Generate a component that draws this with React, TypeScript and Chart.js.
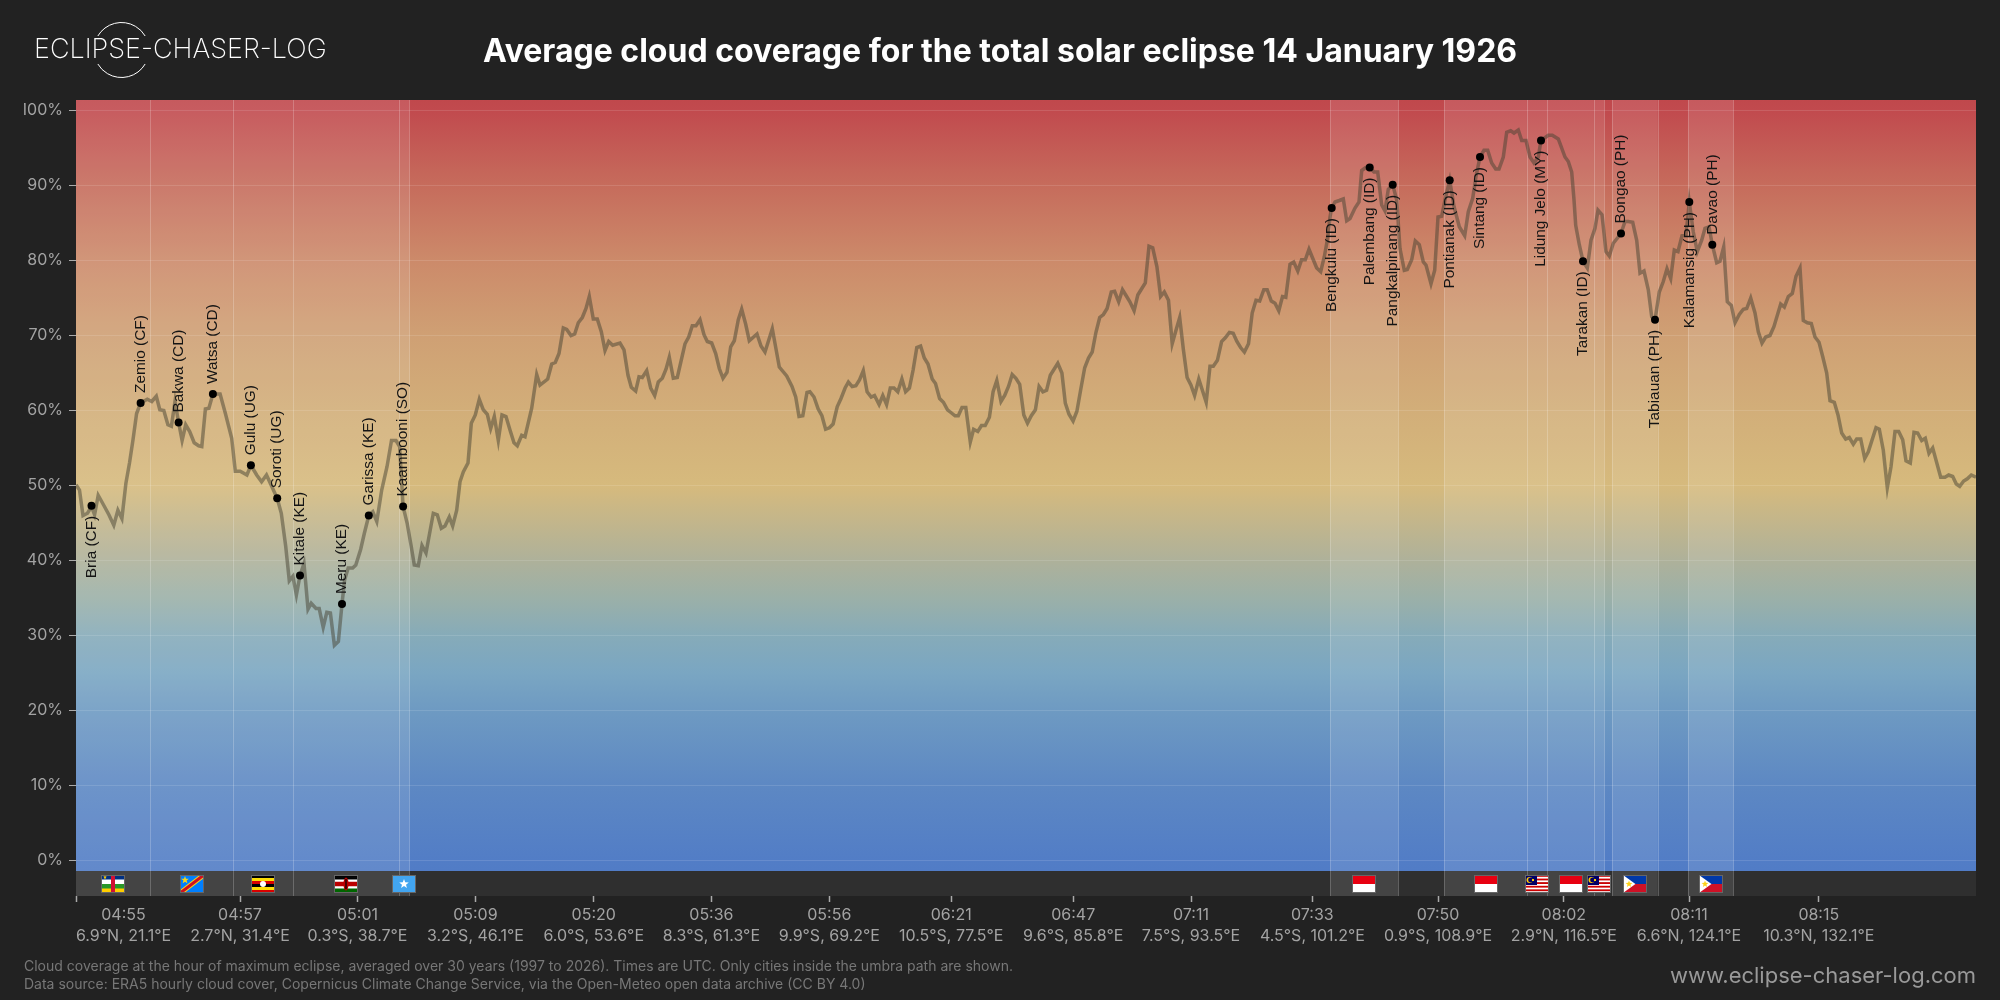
import React, { useEffect, useRef } from "react";
import { Chart, registerables } from "chart.js";

Chart.register(...registerables);

const FONT = "Inter, 'Noto Sans', sans-serif";
const titleText = "Average cloud coverage for the total solar eclipse 14 January 1926";
const logoText = "ECLIPSE-CHASER-LOG";
const siteText = "www.eclipse-chaser-log.com";
const noteLines = [
  "Cloud coverage at the hour of maximum eclipse, averaged over 30 years (1997 to 2026). Times are UTC. Only cities inside the umbra path are shown.",
  "Data source: ERA5 hourly cloud cover, Copernicus Climate Change Service, via the Open-Meteo open data archive (CC BY 4.0)",
];

const pathLength = 1900;
const yMin = -4.73;
const yMax = 101.4;
const stripTop = -1.4;
const yTicks = [0, 10, 20, 30, 40, 50, 60, 70, 80, 90, 100];

const xTickPos = [0, 47.5, 164, 281.5, 399.4, 517.7, 635.4, 753.3, 875.2, 997.2, 1115, 1236.4, 1362, 1487.8, 1613, 1742.8];
const xTickTimes = ["", "04:55", "04:57", "05:01", "05:09", "05:20", "05:36", "05:56", "06:21", "06:47", "07:11", "07:33", "07:50", "08:02", "08:11", "08:15"];
const xTickCoords = ["", "6.9°N, 21.1°E", "2.7°N, 31.4°E", "0.3°S, 38.7°E", "3.2°S, 46.1°E", "6.0°S, 53.6°E", "8.3°S, 61.3°E", "9.9°S, 69.2°E", "10.5°S, 77.5°E", "9.6°S, 85.8°E", "7.5°S, 93.5°E", "4.5°S, 101.2°E", "0.9°S, 108.9°E", "2.9°N, 116.5°E", "6.6°N, 124.1°E", "10.3°N, 132.1°E"];

const pathPos = [
  0, 3.5, 7, 11.5, 15.5, 18.6, 22.2, 27.6, 32.9, 37.8, 41.9, 45.9, 49.9, 53.5, 57, 60.6, 64.6, 71.3, 75.8, 80.3,
  83.8, 87.8, 91.9, 95.4, 99, 102.6, 106.1, 109.7, 113.7, 118.2, 122.7, 125.8, 129.4, 132.9, 136.9, 144.1, 149.4, 155.7, 159.3, 164.2,
  170.9, 174.9, 180.7, 185.6, 190.5, 195, 201.2, 205.3, 209.7, 213.3, 216.9, 220.4, 224, 228, 232, 235.2, 240, 243.2, 247.2, 250.8,
  254.4, 258.4, 262.4, 266, 268.6, 272.2, 276.7, 279.8, 284.7, 288.3, 292.8, 296.8, 300.8, 305.7, 311, 315.5, 320, 323.6, 327.1, 331.1,
  335.2, 338.3, 342.3, 346, 350, 357.3, 361.3, 365.3, 369, 373.3, 376.7, 380.7, 384, 387.3, 392, 395.3, 399.3, 403.3, 407.3, 411.3,
  414.7, 418.3, 422.3, 426, 430, 434, 438, 441.3, 445.7, 449, 455.7, 460.7, 464, 471.7, 475.7, 479.3, 483, 487.3, 490.7, 495,
  498.7, 502.3, 506.3, 510, 513.3, 517.3, 521.3, 525.3, 529, 532.7, 536.7, 544, 548, 552, 555.3, 559.7, 563, 566.3, 570.7, 574.7,
  578.7, 582.3, 586.3, 590, 593.3, 597.3, 601.3, 609, 612.7, 616.3, 620, 624, 628, 631.3, 635.7, 639.7, 643.3, 647, 651, 654.7,
  658.3, 662.3, 665.7, 669.7, 673.3, 681, 685, 689, 696.3, 703.3, 710.7, 716, 719.7, 723, 726.8, 731, 733.9, 738, 742.2, 745.9,
  749.6, 753.4, 757.1, 761.2, 765, 769.1, 772.4, 776.2, 779.9, 783.6, 787.3, 791.1, 795.2, 798.5, 803.1, 806.8, 810.6, 814.3, 818, 821.8,
  825.9, 829.6, 833.4, 837.1, 840.8, 844.6, 848.3, 852, 856.2, 859.5, 863.6, 867.4, 871.5, 875.2, 879, 882.3, 886, 889.8, 894.3, 897.6,
  901.8, 905.5, 909.2, 913.4, 917.1, 920.8, 925, 928.7, 932.5, 936.2, 939.9, 943.7, 947.8, 951.5, 955.3, 959.4, 963.1, 966.9, 970.6, 974.3,
  981.8, 985.9, 989.3, 993, 997.1, 1000.9, 1004.6, 1008.7, 1012.5, 1016.2, 1019.9, 1023.7, 1027.4, 1031.1, 1035.3, 1038.6, 1042.7, 1046.5, 1050.2, 1053.9,
  1058.1, 1061.8, 1065.5, 1069.3, 1073, 1076.7, 1080.9, 1084.6, 1088.3, 1092.5, 1096.2, 1100, 1103.7, 1107.4, 1111.1, 1114.9, 1118.6, 1122.8, 1130.2, 1134,
  1137.3, 1141.4, 1145.6, 1149.3, 1153.4, 1157.2, 1160.9, 1164.6, 1168.4, 1172.5, 1176.2, 1180, 1183.7, 1187.8, 1191.2, 1195.3, 1199, 1202.8, 1206.5, 1209.8,
  1214, 1217.7, 1221.8, 1225.6, 1229.3, 1233, 1237.3, 1240.7, 1244.7, 1248.3, 1251.3, 1254, 1255.7, 1259, 1263.3, 1267.3, 1270.7, 1274, 1279, 1283,
  1285.7, 1289.7, 1293.7, 1298, 1301.7, 1305.7, 1309, 1312.3, 1316.7, 1320.7, 1324, 1328.3, 1331.3, 1335.7, 1339.3, 1343.3, 1347.3, 1350, 1355, 1358.7,
  1362, 1365.7, 1369.7, 1373.7, 1378, 1383.3, 1388.7, 1392.3, 1396.7, 1400, 1404, 1408, 1411.7, 1415.7, 1419.7, 1423, 1427.3, 1430.7, 1434.7, 1438,
  1442.3, 1445.7, 1450, 1454, 1458, 1462.3, 1465, 1472.3, 1476.3, 1482.3, 1489, 1492.3, 1495.7, 1498, 1499.7, 1503.3, 1507, 1511.3, 1515, 1519,
  1522, 1526, 1530, 1533.3, 1537.3, 1545, 1549, 1552.3, 1556.7, 1560.7, 1564, 1568, 1572.3, 1575.7, 1579, 1583.3, 1587.3, 1591, 1594.7, 1598.3,
  1602, 1606, 1610, 1613.3, 1617.3, 1621.3, 1625.7, 1629, 1633, 1636.3, 1640.7, 1644, 1647.7, 1651.3, 1655.3, 1659, 1663.3, 1667.3, 1670.7, 1674.7,
  1679, 1682.3, 1686, 1689.7, 1694, 1698, 1704.7, 1708.3, 1712.3, 1716.3, 1720, 1724, 1727.3, 1731.3, 1735.3, 1739, 1743, 1746.7, 1750.7, 1754,
  1758.3, 1762, 1765.7, 1769.7, 1773.3, 1777.3, 1780.7, 1784.7, 1788.7, 1792.3, 1800, 1803.3, 1807.3, 1811.3, 1815, 1819, 1822.7, 1826.7, 1830, 1834.3,
  1838, 1841.7, 1845.7, 1849.3, 1853, 1856.7, 1864.7, 1869, 1872.7, 1876.7, 1880.3, 1883.7, 1887.7, 1891.3, 1895.3, 1900,
];

const cloudCover = [
  50.1, 49.4, 46, 46.3, 47.2, 46.1, 48.7, 47.4, 46.1, 44.7, 46.7, 45.6, 50.3, 53, 56.1, 59.6, 61, 61.5, 61.2, 61.9,
  60.1, 60, 58.1, 57.9, 61.2, 58.4, 56, 58.1, 57.2, 55.7, 55.3, 55.2, 60.2, 60.3, 62.2, 62.2, 59.6, 56.3, 51.9, 51.9,
  51.4, 52.7, 51.4, 50.5, 51.4, 50.1, 48.3, 46.3, 41.9, 37.3, 37.9, 35.4, 38, 39.6, 33.5, 34.3, 33.6, 33.6, 31.1, 33.1,
  33, 28.7, 29.2, 34.2, 37.4, 39, 39, 39.4, 41.5, 43.6, 46, 46.5, 45.2, 49.4, 52.5, 56, 56, 55.2, 47.2, 45,
  41.9, 39.4, 39.3, 42, 41, 46.3, 46.1, 44.3, 44.6, 45.8, 44.6, 46.7, 50.5, 51.8, 53, 58.3, 59.4, 61.5, 60.1, 59.5,
  57.6, 59.2, 56, 59.4, 59.2, 57.4, 55.7, 55.3, 56.7, 56.5, 60.3, 64.8, 63.4, 64.2, 66.2, 66.4, 67.6, 71, 70.8, 70,
  70.2, 71.7, 72.4, 73.6, 75.2, 72.2, 72.2, 70.5, 68, 69.2, 68.7, 69, 68.1, 64.7, 63.1, 62.6, 64.5, 64.4, 65.3, 63,
  62, 63.8, 64.3, 65.5, 67.1, 64.3, 64.4, 68.9, 69.8, 71.3, 71.3, 72.1, 70.1, 69.2, 69, 67.6, 65.6, 64.3, 65.1, 68.5,
  69.3, 72.1, 73.5, 71.5, 69.3, 70.2, 68.6, 67.8, 70.9, 65.8, 64.6, 63.2, 61.8, 59.2, 59.3, 62.4, 62.5, 61.8, 60.2, 59.3,
  57.5, 57.7, 58.2, 60.5, 61.6, 63, 63.8, 63.2, 63.3, 64.1, 65.3, 62.5, 61.8, 62, 60.8, 62, 60.8, 63, 63, 62.5,
  64.2, 62.5, 63, 65.4, 68.4, 68.6, 67, 66.2, 64.2, 63.6, 61.6, 61.1, 60.1, 59.7, 59.3, 59.3, 60.4, 60.4, 55.8, 57.5,
  57.2, 58, 58, 59.1, 62.5, 64, 61.2, 62, 63.2, 64.8, 64.3, 63.5, 59.4, 58.3, 59.3, 60.1, 63.2, 62.5, 62.7, 64.7,
  66.3, 65, 61, 59.5, 58.6, 59.9, 62.7, 65.7, 67, 67.8, 70.4, 72.4, 72.8, 73.6, 75.8, 75.9, 74.5, 76.1, 75.3, 74.5,
  73.3, 75.4, 76.2, 77, 81.9, 81.7, 79.2, 75.2, 75.8, 74.7, 68.9, 70.7, 72.4, 68.1, 64.4, 63.4, 62, 64.2, 61.1, 65.9,
  65.9, 66.7, 69.2, 69.7, 70.4, 70.3, 69.2, 68.4, 67.8, 68.9, 73, 74.7, 74.6, 76.1, 76.1, 74.6, 74.3, 73.3, 75.2, 75.1,
  79.5, 79.8, 78.6, 80.1, 80.1, 81.5, 80.1, 79, 78.5, 80.5, 82.7, 85.8, 87, 87.8, 88, 88.2, 85.3, 85.6, 87, 87.8,
  92, 92.4, 92.4, 91.8, 91.8, 87.4, 86.6, 89.5, 90.1, 88.1, 81.6, 78.7, 78.8, 80.1, 82.6, 82.1, 79.8, 79.4, 76.9, 78.7,
  85.8, 85.9, 88.5, 90.7, 87.2, 84.5, 83.3, 86.5, 88.3, 91.2, 93.8, 94.7, 94.7, 93, 92.2, 92.2, 93.8, 97.1, 97.3, 97,
  97.4, 96, 96, 93.8, 93, 93.8, 96, 96.7, 96.7, 96.2, 93.8, 93.2, 91.8, 88.1, 84.7, 82.1, 79.9, 79, 82.7, 84.3,
  86.7, 86.1, 81.2, 80.6, 82.3, 83.6, 85.2, 85.2, 85.1, 82.7, 78.3, 78.6, 76.1, 72.5, 72.1, 75.8, 77.2, 78.9, 77.6, 81.4,
  81.2, 83.3, 83.4, 87.8, 83.8, 81.2, 82.7, 84.3, 84.5, 82.1, 79.7, 79.9, 81.8, 74.5, 74, 71.7, 72.8, 73.5, 73.6, 75,
  73, 70.5, 69, 69.8, 70, 71.2, 74.2, 73.8, 75.2, 75.6, 77.9, 79, 72, 71.7, 71.6, 69.8, 69.1, 67.2, 65, 61.3,
  61.1, 59.4, 57, 56.2, 56.4, 55.5, 56.2, 56.2, 53.6, 54.5, 57.7, 57.5, 54.7, 49.7, 52.5, 57.2, 57.2, 56.1, 53.3, 53,
  57.1, 57, 56, 56.3, 54.3, 55, 51.1, 51.1, 51.4, 51.2, 50.2, 49.9, 50.6, 50.9, 51.4, 51.1,
];

const cityNames = ["Bria (CF)", "Zemio (CF)", "Bakwa (CD)", "Watsa (CD)", "Gulu (UG)", "Soroti (UG)", "Kitale (KE)", "Meru (KE)", "Garissa (KE)", "Kaambooni (SO)", "Bengkulu (ID)", "Palembang (ID)", "Pangkalpinang (ID)", "Pontianak (ID)", "Sintang (ID)", "Lidung Jelo (MY)", "Tarakan (ID)", "Bongao (PH)", "Tabiauan (PH)", "Kalamansig (PH)", "Davao (PH)"];
const cityPos = [15.5, 64.6, 102.6, 136.9, 174.9, 201.2, 224, 266, 292.8, 327.1, 1255.7, 1293.7, 1316.7, 1373.7, 1404, 1465, 1507, 1545, 1579, 1613.3, 1636.3];
const cityCloud = [47.3, 61, 58.4, 62.2, 52.7, 48.3, 38, 34.2, 46, 47.2, 87, 92.4, 90.1, 90.7, 93.8, 96, 79.9, 83.6, 72.1, 87.8, 82.1];
const cityLabelBelow = [true, false, false, false, false, false, false, false, false, false, true, true, true, true, true, true, true, false, true, true, false];

const bandCountry = ["CF", "CD", "UG", "KE", "SO", "ID", "ID", "MY", "ID", "MY", "PH", "PH"];
const bandStart = [0, 74.4, 156.6, 217.3, 322.7, 1254.3, 1368.3, 1450.7, 1471.3, 1517.7, 1536.3, 1612.3];
const bandEnd = [74.4, 156.6, 217.3, 322.7, 333.4, 1322.3, 1450.7, 1471.3, 1517.7, 1528.3, 1581.7, 1657.3];

const gradientValues = [101.4, 100, 90, 80, 70, 60, 50, 40, 35, 30, 25, 20, 10, 0, -1.4];
const gradientColors = ["#c0484c", "#c14a4e", "#c66c5c", "#cc8a6a", "#cfa074", "#d2ae79", "#d6ba7d", "#aeb19a", "#9bb0a8", "#86abb9", "#7aa6c2", "#6e9ac2", "#5d88c3", "#527dc6", "#517cc6"];

function drawFlag(c: CanvasRenderingContext2D, code: string, x: number, y: number, w: number, h: number) {
  const stripes = (cols: string[]) => cols.forEach((col, i) => {
    c.fillStyle = col;
    c.fillRect(x, y + (h * i) / cols.length, w, h / cols.length + 0.5);
  });
  const star = (cx: number, cy: number, r: number, col: string) => {
    c.fillStyle = col;
    c.beginPath();
    for (let i = 0; i < 10; i++) {
      const a = -Math.PI / 2 + (i * Math.PI) / 5;
      const rr = i % 2 ? r * 0.42 : r;
      c.lineTo(cx + rr * Math.cos(a), cy + rr * Math.sin(a));
    }
    c.closePath();
    c.fill();
  };
  c.save();
  c.beginPath();
  c.rect(x, y, w, h);
  c.clip();
  if (code === "CF") {
    stripes(["#003082", "#ffffff", "#289728", "#ffce00"]);
    c.fillStyle = "#d21034";
    c.fillRect(x + w / 2 - 2, y, 4, h);
    star(x + 4, y + 2.3, 2, "#ffce00");
  } else if (code === "CD") {
    c.fillStyle = "#007fff";
    c.fillRect(x, y, w, h);
    c.lineWidth = 5;
    c.strokeStyle = "#f7d618";
    c.beginPath();
    c.moveTo(x - 1, y + h + 1);
    c.lineTo(x + w + 1, y - 1);
    c.stroke();
    c.lineWidth = 3;
    c.strokeStyle = "#ce1021";
    c.stroke();
    star(x + 5, y + 5, 4, "#f7d618");
  } else if (code === "UG") {
    stripes(["#000000", "#fcdc04", "#d90000", "#000000", "#fcdc04", "#d90000"]);
    c.fillStyle = "#ffffff";
    c.beginPath();
    c.arc(x + w / 2, y + h / 2, 3, 0, Math.PI * 2);
    c.fill();
  } else if (code === "KE") {
    stripes(["#000000", "#000000", "#ffffff", "#bb0000", "#bb0000", "#ffffff", "#006600", "#006600"]);
    c.fillStyle = "#bb0000";
    c.beginPath();
    c.ellipse(x + w / 2, y + h / 2, 2.6, 6.5, 0, 0, Math.PI * 2);
    c.fill();
    c.fillStyle = "#000000";
    c.fillRect(x + w / 2 - 0.6, y + h / 2 - 5, 1.2, 10);
  } else if (code === "SO") {
    c.fillStyle = "#42a5f0";
    c.fillRect(x, y, w, h);
    star(x + w / 2, y + h / 2, 5, "#ffffff");
  } else if (code === "ID") {
    stripes(["#e70011", "#ffffff"]);
  } else if (code === "MY") {
    stripes(["#cc0001", "#ffffff", "#cc0001", "#ffffff", "#cc0001", "#ffffff", "#cc0001", "#ffffff", "#cc0001", "#ffffff"]);
    c.fillStyle = "#010066";
    c.fillRect(x, y, w / 2, (h * 5) / 9);
    c.fillStyle = "#ffcc00";
    c.beginPath();
    c.arc(x + 4.5, y + 5, 3, 0, Math.PI * 2);
    c.fill();
    c.fillStyle = "#010066";
    c.beginPath();
    c.arc(x + 5.5, y + 5, 2.4, 0, Math.PI * 2);
    c.fill();
    c.fillStyle = "#ffcc00";
    c.fillRect(x + 7, y + 4, 2, 2);
  } else if (code === "PH") {
    stripes(["#0038a8", "#ce1126"]);
    c.fillStyle = "#ffffff";
    c.beginPath();
    c.moveTo(x, y);
    c.lineTo(x + w * 0.52, y + h / 2);
    c.lineTo(x, y + h);
    c.closePath();
    c.fill();
    star(x + 6, y + h / 2, 3.6, "#fcd116");
  }
  c.restore();
  c.strokeStyle = "#666666";
  c.lineWidth = 1;
  c.strokeRect(x + 0.5, y + 0.5, w - 1, h - 1);
}

const backdropPlugin = {
  id: "backdrop",
  beforeDraw(chart: any) {
    const { ctx: c, chartArea: a, scales } = chart;
    const y = scales.y;
    const x = scales.x;
    c.save();
    c.fillStyle = "#222222";
    c.fillRect(0, 0, chart.width, chart.height);
    const gTop = y.getPixelForValue(yMax);
    const gBottom = y.getPixelForValue(stripTop);
    const g = c.createLinearGradient(0, gTop, 0, gBottom);
    gradientValues.forEach((v, i) => g.addColorStop((yMax - v) / (yMax - stripTop), gradientColors[i]));
    c.fillStyle = g;
    c.fillRect(a.left, gTop, a.right - a.left, gBottom - gTop);
    c.fillStyle = "#2f2f2f";
    c.fillRect(a.left, gBottom, a.right - a.left, a.bottom - gBottom);
    bandStart.forEach((s, i) => {
      const l = x.getPixelForValue(s);
      const r = x.getPixelForValue(bandEnd[i]);
      c.fillStyle = "rgba(255,255,255,0.1)";
      c.fillRect(l, gTop, r - l, a.bottom - gTop);
      c.fillStyle = "rgba(255,255,255,0.22)";
      const touchesPrev = i > 0 && bandEnd[i - 1] === s;
      if (s > 0 && !touchesPrev) c.fillRect(Math.round(l), gTop, 1, a.bottom - gTop);
      c.fillRect(Math.round(r), gTop, 1, a.bottom - gTop);
    });
    c.restore();
  },
  afterDatasetsDraw(chart: any) {
    const { ctx: c, scales, chartArea: a } = chart;
    const x = scales.x;
    const y = scales.y;
    c.save();
    const stripMid = (y.getPixelForValue(stripTop) + a.bottom) / 2;
    bandStart.forEach((s, i) => {
      const mid = (x.getPixelForValue(s) + x.getPixelForValue(bandEnd[i])) / 2;
      drawFlag(c, bandCountry[i], Math.round(mid - 12), Math.round(stripMid - 9), 24, 18);
    });
    c.font = "15.4px 'Liberation Sans', Arial, sans-serif";
    c.fillStyle = "#141414";
    c.textBaseline = "middle";
    cityNames.forEach((name, i) => {
      c.save();
      c.translate(x.getPixelForValue(cityPos[i]), y.getPixelForValue(cityCloud[i]));
      c.rotate(-Math.PI / 2);
      c.textAlign = cityLabelBelow[i] ? "right" : "left";
      c.fillText(name, cityLabelBelow[i] ? -10 : 10, 0);
      c.restore();
    });
    c.restore();
  },
  afterDraw(chart: any) {
    const { ctx: c } = chart;
    c.save();
    c.fillStyle = "#ffffff";
    c.strokeStyle = "#ffffff";
    c.font = `200 27px ${FONT}`;
    c.textBaseline = "middle";
    c.textAlign = "left";
    c.fillText(logoText, 34, 50);
    c.lineWidth = 1;
    c.beginPath();
    c.arc(121.5, 50, 27.5, Math.PI * 1.17, Math.PI * 1.83);
    c.stroke();
    c.beginPath();
    c.arc(121.5, 50, 27.5, Math.PI * 0.17, Math.PI * 0.83);
    c.stroke();
    c.font = `14px ${FONT}`;
    c.fillStyle = "#777777";
    c.fillText(noteLines[0], 24, 967);
    c.fillText(noteLines[1], 24, 985);
    c.font = `22px ${FONT}`;
    c.fillStyle = "#999999";
    c.textAlign = "right";
    c.fillText(siteText, 1976, 976);
    c.restore();
  },
};

export default function App() {
  const ref = useRef<HTMLCanvasElement>(null);
  useEffect(() => {
    const chart = new Chart(ref.current as HTMLCanvasElement, {
      type: "line",
      plugins: [backdropPlugin],
      data: {
        datasets: [
          {
            label: "Cities",
            data: cityPos.map((p, i) => ({ x: p, y: cityCloud[i] })),
            showLine: false,
            pointRadius: 4,
            pointBackgroundColor: "#000000",
            pointBorderWidth: 0,
            order: 0,
          },
          {
            label: "Cloud coverage",
            data: pathPos.map((p, i) => ({ x: p, y: cloudCover[i] })),
            borderColor: "rgba(70,65,50,0.5)",
            borderWidth: 3.5,
            pointRadius: 0,
            tension: 0,
            order: 1,
          },
        ],
      },
      options: {
        animation: false,
        responsive: false,
        devicePixelRatio: 1,
        layout: { padding: { left: 24, right: 24, top: 0, bottom: 0 } },
        plugins: {
          legend: { display: false },
          tooltip: { enabled: false },
          title: {
            display: true,
            text: titleText,
            color: "#ffffff",
            font: { family: FONT, size: 32, weight: "bold", lineHeight: 1.2 },
            padding: { top: 33, bottom: 28.6 },
          },
        },
        scales: {
          x: {
            type: "linear",
            min: 0,
            max: pathLength,
            afterFit: (s: any) => { s.height = 104; },
            afterBuildTicks: (s: any) => { s.ticks = xTickPos.map((v) => ({ value: v })); },
            border: { display: false },
            grid: {
              drawOnChartArea: false,
              tickLength: 6,
              tickWidth: 1.5,
              tickColor: (ctx: any) => (ctx.index === 1 ? "transparent" : "#aaaaaa"),
            },
            ticks: {
              autoSkip: false,
              maxRotation: 0,
              minRotation: 0,
              padding: 2,
              color: "#a3a3a3",
              font: { family: FONT, size: 16, lineHeight: 1.36 },
              callback: (_v: any, i: number) => [xTickTimes[i], xTickCoords[i]],
            },
          },
          y: {
            min: yMin,
            max: yMax,
            afterFit: (s: any) => { s.width = 52; },
            afterBuildTicks: (s: any) => { s.ticks = yTicks.map((v) => ({ value: v })); },
            border: { display: false },
            grid: {
              color: "rgba(255,255,255,0.12)",
              tickColor: "#aaaaaa",
              tickLength: 7,
              lineWidth: 1,
            },
            ticks: {
              autoSkip: false,
              padding: 6,
              color: "#a3a3a3",
              font: { family: FONT, size: 16 },
              callback: (v: any) => `${v}%`,
            },
          },
        },
      },
    } as any);
    return () => chart.destroy();
  }, []);
  return (
    <div style={{ position: "fixed", left: 0, top: 0, width: 2000, height: 1000, background: "#222222" }}>
      <canvas ref={ref} width={2000} height={1000} style={{ display: "block", width: 2000, height: 1000 }} />
    </div>
  );
}
